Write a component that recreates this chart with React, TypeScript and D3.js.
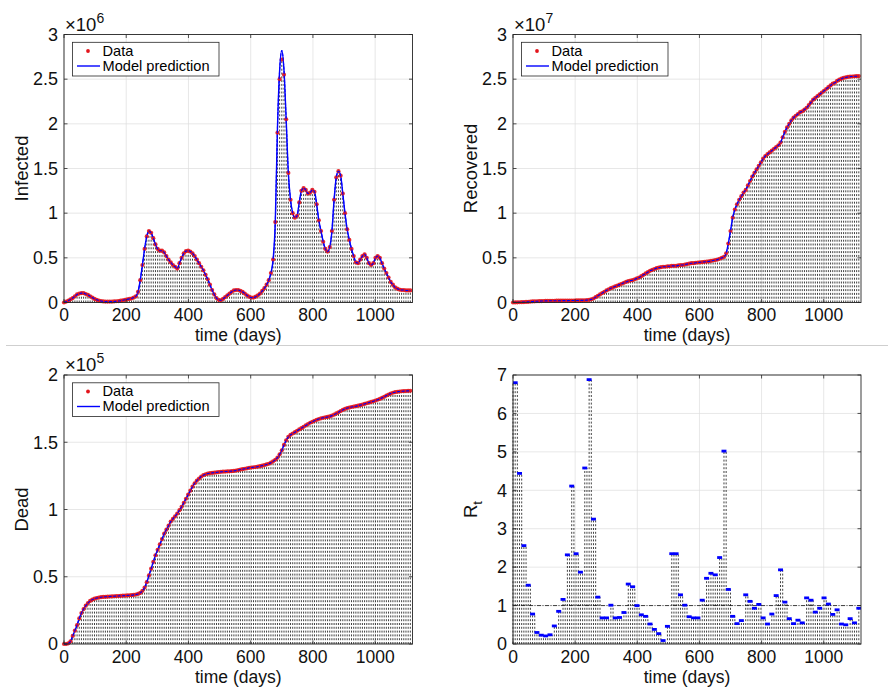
import React from 'react';
import * as d3 from 'd3';

// weekly sample days (0, 7, ..., 1113)
const DAYS: number[] = d3.range(0, 1114, 7);
const X_MAX = 1120;

// Infected (x10^6), red data dots
const INFECTED_DATA = [
  0.00, 0.01, 0.02, 0.035, 0.05, 0.07, 0.09, 0.10, 0.105, 0.105,
  0.095, 0.085, 0.07, 0.055, 0.04, 0.03, 0.022, 0.016, 0.012, 0.01,
  0.01, 0.01, 0.01, 0.012, 0.014, 0.016, 0.02, 0.025, 0.03, 0.035,
  0.04, 0.045, 0.055, 0.07, 0.12, 0.25, 0.42, 0.60, 0.74, 0.80,
  0.78, 0.72, 0.65, 0.60, 0.58, 0.58, 0.56, 0.52, 0.48, 0.45,
  0.42, 0.40, 0.38, 0.44, 0.50, 0.55, 0.575, 0.58, 0.57, 0.55,
  0.52, 0.48, 0.44, 0.40, 0.36, 0.31, 0.26, 0.20, 0.14, 0.09,
  0.05, 0.03, 0.025, 0.04, 0.06, 0.08, 0.10, 0.12, 0.135, 0.14,
  0.14, 0.13, 0.12, 0.10, 0.08, 0.065, 0.055, 0.055, 0.065, 0.08,
  0.10, 0.13, 0.16, 0.20, 0.25, 0.33, 0.48, 0.90, 1.90, 2.50,
  2.72, 2.55, 2.05, 1.45, 1.15, 1.00, 0.95, 0.97, 1.12, 1.25,
  1.28, 1.26, 1.22, 1.23, 1.26, 1.24, 1.10, 0.92, 0.80, 0.68,
  0.60, 0.57, 0.62, 0.80, 1.15, 1.40, 1.47, 1.42, 1.22, 1.00,
  0.82, 0.70, 0.60, 0.52, 0.45, 0.44, 0.48, 0.52, 0.54, 0.50,
  0.44, 0.42, 0.44, 0.50, 0.52, 0.50, 0.44, 0.38, 0.33, 0.28,
  0.23, 0.20, 0.17, 0.155, 0.145, 0.14, 0.14, 0.135, 0.135, 0.135,
];

// Infected (x10^6), blue model prediction
const INFECTED_MODEL = [
  0.00, 0.01, 0.02, 0.035, 0.05, 0.07, 0.09, 0.10, 0.105, 0.105,
  0.095, 0.085, 0.07, 0.055, 0.04, 0.03, 0.022, 0.016, 0.012, 0.01,
  0.01, 0.01, 0.01, 0.012, 0.014, 0.016, 0.02, 0.025, 0.03, 0.035,
  0.04, 0.045, 0.055, 0.07, 0.12, 0.25, 0.42, 0.60, 0.74, 0.80,
  0.78, 0.72, 0.65, 0.60, 0.58, 0.58, 0.56, 0.52, 0.48, 0.45,
  0.42, 0.40, 0.38, 0.44, 0.50, 0.55, 0.575, 0.58, 0.57, 0.55,
  0.52, 0.48, 0.44, 0.40, 0.36, 0.31, 0.26, 0.20, 0.14, 0.09,
  0.05, 0.03, 0.025, 0.04, 0.06, 0.08, 0.10, 0.12, 0.135, 0.14,
  0.14, 0.13, 0.12, 0.10, 0.08, 0.065, 0.055, 0.055, 0.065, 0.08,
  0.10, 0.13, 0.16, 0.20, 0.25, 0.33, 0.48, 0.90, 1.95, 2.60,
  2.82, 2.60, 2.05, 1.45, 1.15, 1.00, 0.95, 0.97, 1.12, 1.25,
  1.28, 1.26, 1.22, 1.23, 1.26, 1.24, 1.10, 0.92, 0.80, 0.68,
  0.60, 0.57, 0.62, 0.80, 1.15, 1.40, 1.47, 1.42, 1.22, 1.00,
  0.82, 0.70, 0.60, 0.52, 0.45, 0.44, 0.48, 0.52, 0.54, 0.50,
  0.44, 0.42, 0.44, 0.50, 0.52, 0.50, 0.44, 0.38, 0.33, 0.28,
  0.23, 0.20, 0.17, 0.155, 0.145, 0.14, 0.14, 0.135, 0.135, 0.135,
];

// Recovered (x10^7)
const RECOVERED_DATA = [
  0.000, 0.001, 0.002, 0.003, 0.004, 0.005, 0.006, 0.008, 0.010, 0.012,
  0.013, 0.014, 0.015, 0.016, 0.017, 0.018, 0.018, 0.019, 0.019, 0.019,
  0.020, 0.020, 0.020, 0.021, 0.021, 0.021, 0.022, 0.022, 0.022, 0.023,
  0.023, 0.024, 0.024, 0.025, 0.027, 0.030, 0.035, 0.045, 0.060, 0.075,
  0.090, 0.105, 0.120, 0.135, 0.148, 0.160, 0.170, 0.180, 0.190, 0.200,
  0.210, 0.220, 0.230, 0.240, 0.245, 0.250, 0.260, 0.270, 0.280, 0.295,
  0.310, 0.325, 0.340, 0.355, 0.365, 0.375, 0.385, 0.390, 0.395, 0.400,
  0.400, 0.405, 0.405, 0.410, 0.410, 0.410, 0.415, 0.420, 0.420, 0.425,
  0.430, 0.435, 0.440, 0.440, 0.445, 0.448, 0.450, 0.452, 0.455, 0.458,
  0.460, 0.465, 0.470, 0.475, 0.480, 0.490, 0.500, 0.510, 0.550, 0.660,
  0.800, 0.950, 1.040, 1.100, 1.150, 1.190, 1.230, 1.260, 1.310, 1.360,
  1.410, 1.450, 1.490, 1.530, 1.570, 1.610, 1.640, 1.660, 1.680, 1.700,
  1.720, 1.740, 1.760, 1.790, 1.850, 1.910, 1.960, 2.000, 2.040, 2.070,
  2.090, 2.110, 2.130, 2.140, 2.160, 2.180, 2.210, 2.240, 2.270, 2.290,
  2.310, 2.330, 2.350, 2.370, 2.390, 2.410, 2.430, 2.450, 2.460, 2.480,
  2.495, 2.505, 2.515, 2.520, 2.525, 2.528, 2.530, 2.532, 2.533, 2.535,
];

// Dead (x10^5)
const DEAD_DATA = [
  0.000, 0.000, 0.005, 0.020, 0.060, 0.100, 0.140, 0.190, 0.230, 0.260,
  0.285, 0.305, 0.320, 0.330, 0.337, 0.342, 0.345, 0.348, 0.350, 0.351,
  0.352, 0.353, 0.354, 0.355, 0.356, 0.357, 0.358, 0.359, 0.360, 0.361,
  0.362, 0.363, 0.365, 0.368, 0.372, 0.380, 0.395, 0.420, 0.460, 0.510,
  0.560, 0.610, 0.660, 0.700, 0.740, 0.780, 0.820, 0.850, 0.880, 0.910,
  0.930, 0.950, 0.970, 0.995, 1.020, 1.050, 1.080, 1.110, 1.140, 1.170,
  1.195, 1.215, 1.230, 1.245, 1.255, 1.262, 1.267, 1.270, 1.272, 1.274,
  1.276, 1.278, 1.280, 1.281, 1.282, 1.283, 1.284, 1.285, 1.287, 1.290,
  1.293, 1.297, 1.300, 1.303, 1.306, 1.310, 1.312, 1.314, 1.316, 1.319,
  1.322, 1.326, 1.330, 1.335, 1.340, 1.348, 1.358, 1.370, 1.385, 1.410,
  1.440, 1.480, 1.515, 1.540, 1.555, 1.565, 1.575, 1.585, 1.595, 1.605,
  1.615, 1.625, 1.635, 1.645, 1.652, 1.660, 1.667, 1.673, 1.678, 1.682,
  1.685, 1.688, 1.692, 1.698, 1.705, 1.714, 1.723, 1.732, 1.740, 1.748,
  1.754, 1.758, 1.762, 1.765, 1.768, 1.772, 1.776, 1.780, 1.785, 1.790,
  1.795, 1.800, 1.805, 1.810, 1.816, 1.822, 1.830, 1.838, 1.847, 1.855,
  1.862, 1.868, 1.872, 1.875, 1.877, 1.879, 1.880, 1.881, 1.882, 1.883,
];

// Reproduction number, one value per 14-day window
const RT_PERIOD = 14;
const RT_VALUES = [
  6.80, 4.44, 2.56, 1.53, 0.78, 0.30, 0.23, 0.21, 0.24, 0.47,
  0.85, 1.16, 2.32, 4.11, 2.35, 1.87, 4.58, 6.88, 3.25, 1.22,
  0.68, 0.68, 1.01, 0.68, 0.69, 0.82, 1.56, 1.49, 1.00, 0.76,
  0.72, 0.52, 0.38, 0.27, 0.09, 0.46, 2.35, 2.35, 1.28, 1.01,
  0.71, 0.68, 0.68, 1.14, 1.71, 1.84, 1.80, 2.25, 5.02, 1.42,
  0.72, 0.53, 0.61, 1.28, 1.11, 0.93, 1.03, 0.68, 0.52, 0.78,
  1.26, 1.93, 1.09, 0.66, 0.53, 0.62, 0.55, 1.20, 1.14, 0.83,
  0.93, 1.20, 1.04, 0.77, 0.89, 0.52, 0.50, 0.66, 0.55, 0.93,
];
const RT_THRESHOLD = 1;

const X_TICKS = [0, 200, 400, 600, 800, 1000];
const TOP_Y_TICKS = [0, 0.5, 1, 1.5, 2, 2.5, 3];
const DEAD_Y_TICKS = [0, 0.5, 1, 1.5, 2];
const RT_Y_TICKS = [0, 1, 2, 3, 4, 5, 6, 7];

const LEGEND_LABELS = ['Data', 'Model prediction'];
const X_LABEL = 'time (days)';

const FONT = '"Liberation Sans", Arial, Helvetica, sans-serif';
const INK = '#262626';
const RED = '#e3141b';
const BLUE = '#0000ff';

type Box = { l: number; r: number; t: number; b: number };
type Scale = d3.ScaleLinear<number, number>;

const BOX_INF: Box = { l: 64, r: 412.5, t: 34.5, b: 302.5 };
const BOX_REC: Box = { l: 513, r: 861, t: 34.5, b: 302.5 };
const BOX_DEAD: Box = { l: 64, r: 412.5, t: 375, b: 644 };
const BOX_RT: Box = { l: 513, r: 861, t: 375, b: 644 };

function Panel(props: {
  box: Box;
  yMax: number;
  yTicks: number[];
  yLabel: React.ReactNode;
  expo?: string;
  legend?: boolean;
  render: (x: Scale, y: Scale) => React.ReactNode;
}) {
  const { box, yMax, yTicks, yLabel, expo, legend, render } = props;
  const x = d3.scaleLinear().domain([0, X_MAX]).range([box.l, box.r]);
  const y = d3.scaleLinear().domain([0, yMax]).range([box.b, box.t]);
  const tl = 3.5;
  const cy = (box.t + box.b) / 2;
  return (
    <g>
      <rect x={box.l} y={box.t} width={box.r - box.l} height={box.b - box.t} fill="#fff" />
      {X_TICKS.map((v) => (
        <line key={'gx' + v} x1={x(v)} x2={x(v)} y1={box.t} y2={box.b} stroke="#dcdcdc" strokeWidth={0.7} />
      ))}
      {yTicks.map((v) => (
        <line key={'gy' + v} x1={box.l} x2={box.r} y1={y(v)} y2={y(v)} stroke="#dcdcdc" strokeWidth={0.7} />
      ))}
      {render(x, y)}
      <rect x={box.l} y={box.t} width={box.r - box.l} height={box.b - box.t} fill="none" stroke={INK} strokeWidth={0.9} />
      {X_TICKS.map((v) => (
        <g key={'tx' + v}>
          <line x1={x(v)} x2={x(v)} y1={box.b} y2={box.b - tl} stroke={INK} strokeWidth={0.8} />
          <line x1={x(v)} x2={x(v)} y1={box.t} y2={box.t + tl} stroke={INK} strokeWidth={0.8} />
          <text x={x(v)} y={box.b + 18.5} textAnchor="middle" fontSize={17.5} fill="#111">{String(v)}</text>
        </g>
      ))}
      {yTicks.map((v) => (
        <g key={'ty' + v}>
          <line x1={box.l} x2={box.l + tl} y1={y(v)} y2={y(v)} stroke={INK} strokeWidth={0.8} />
          <line x1={box.r} x2={box.r - tl} y1={y(v)} y2={y(v)} stroke={INK} strokeWidth={0.8} />
          <text x={box.l - 6} y={y(v) + 6.3} textAnchor="end" fontSize={18} fill="#111">{String(v)}</text>
        </g>
      ))}
      <text x={(box.l + box.r) / 2} y={box.b + 38.5} textAnchor="middle" fontSize={17.5} fill="#111">{X_LABEL}</text>
      <text transform={`translate(${box.l - 36},${cy}) rotate(-90)`} textAnchor="middle" fontSize={18.5} fill="#111">{yLabel}</text>
      {expo && (
        <text x={box.l + 1} y={box.t - 4} fontSize={18.5} fill="#111">
          ×10<tspan dy={-8} fontSize={14}>{expo}</tspan>
        </text>
      )}
      {legend && (
        <g>
          <rect x={box.l + 8.5} y={box.t + 7.8} width={146.5} height={33.7} fill="#fff" stroke={INK} strokeWidth={0.8} />
          <circle cx={box.l + 24} cy={box.t + 16.5} r={1.9} fill={RED} />
          <text x={box.l + 38.5} y={box.t + 21} fontSize={14.6} fill="#000">{LEGEND_LABELS[0]}</text>
          <line x1={box.l + 13} x2={box.l + 36} y1={box.t + 31.5} y2={box.t + 31.5} stroke={BLUE} strokeWidth={1.4} />
          <text x={box.l + 38.5} y={box.t + 36} fontSize={14.6} fill="#000">{LEGEND_LABELS[1]}</text>
        </g>
      )}
    </g>
  );
}

function CurveLayer(props: { x: Scale; y: Scale; data: number[]; model: number[] }) {
  const { x, y, data, model } = props;
  const line = d3
    .line<number>()
    .x((_, i) => x(DAYS[i]))
    .y((d) => y(d))
    .curve(d3.curveMonotoneX);
  return (
    <g>
      {data.map((v, i) => (
        <line key={'s' + i} x1={x(DAYS[i])} x2={x(DAYS[i])} y1={y(0)} y2={y(v)} stroke="#000" strokeWidth={0.75} strokeDasharray="2,1.8" />
      ))}
      <path d={line(model) || ''} fill="none" stroke={BLUE} strokeWidth={1.4} />
      {data.map((v, i) => (
        <circle key={'d' + i} cx={x(DAYS[i])} cy={y(v)} r={2.1} fill={RED} fillOpacity={0.9} />
      ))}
      <path d={line(model) || ''} fill="none" stroke={BLUE} strokeWidth={1.1} strokeDasharray="3,1.5" />
    </g>
  );
}

function rtAtDay(d: number) {
  const idx = Math.min(RT_VALUES.length - 1, Math.max(0, Math.ceil(d / RT_PERIOD) - 1));
  return RT_VALUES[idx];
}

function RtLayer(props: { x: Scale; y: Scale }) {
  const { x, y } = props;
  return (
    <g>
      {DAYS.map((d, i) => (
        <line key={'s' + i} x1={x(d)} x2={x(d)} y1={y(0)} y2={y(rtAtDay(d))} stroke="#000" strokeWidth={0.75} strokeDasharray="2,1.8" />
      ))}
      <line x1={x(0)} x2={x(X_MAX)} y1={y(RT_THRESHOLD)} y2={y(RT_THRESHOLD)} stroke="#111" strokeWidth={0.8} strokeDasharray="4,1.5,1,1.5" />
      {RT_VALUES.map((v, i) => (
        <line key={'r' + i} x1={x(Math.max(0, i * RT_PERIOD - 1))} x2={x(Math.min(X_MAX, (i + 1) * RT_PERIOD + 1))} y1={y(v)} y2={y(v)} stroke={BLUE} strokeWidth={2.8} />
      ))}
    </g>
  );
}

export default function App() {
  return (
    <svg
      width={890}
      height={690}
      viewBox="0 0 890 690"
      style={{ position: 'absolute', left: 0, top: 0, display: 'block', background: '#fff' }}
      fontFamily={FONT}
    >
      <rect x={0} y={0} width={890} height={690} fill="#fff" />
      <line x1={6} x2={888} y1={345.5} y2={345.5} stroke="#cfcfcf" strokeWidth={1} />
      <Panel
        box={BOX_INF}
        yMax={3}
        yTicks={TOP_Y_TICKS}
        yLabel="Infected"
        expo="6"
        legend
        render={(x, y) => <CurveLayer x={x} y={y} data={INFECTED_DATA} model={INFECTED_MODEL} />}
      />
      <Panel
        box={BOX_REC}
        yMax={3}
        yTicks={TOP_Y_TICKS}
        yLabel="Recovered"
        expo="7"
        legend
        render={(x, y) => <CurveLayer x={x} y={y} data={RECOVERED_DATA} model={RECOVERED_DATA} />}
      />
      <Panel
        box={BOX_DEAD}
        yMax={2}
        yTicks={DEAD_Y_TICKS}
        yLabel="Dead"
        expo="5"
        legend
        render={(x, y) => <CurveLayer x={x} y={y} data={DEAD_DATA} model={DEAD_DATA} />}
      />
      <Panel
        box={BOX_RT}
        yMax={7}
        yTicks={RT_Y_TICKS}
        yLabel={
          <>
            R<tspan dy={5} fontSize={13}>t</tspan>
          </>
        }
        render={(x, y) => <RtLayer x={x} y={y} />}
      />
    </svg>
  );
}
